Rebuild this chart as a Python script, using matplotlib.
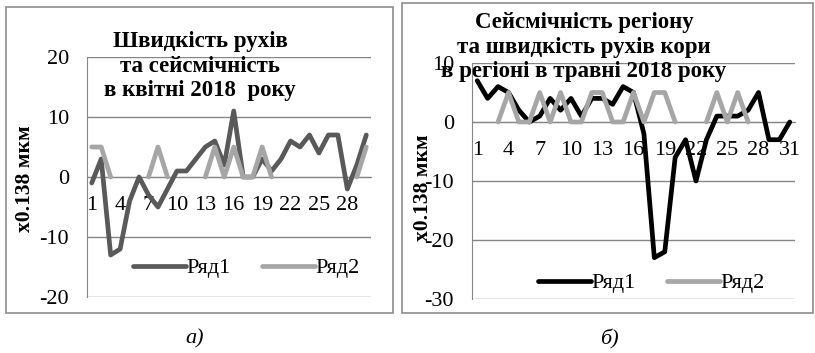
import numpy as np
import matplotlib
matplotlib.use("Agg")
import matplotlib.pyplot as plt
from matplotlib.patches import Rectangle

plt.rcParams['font.family'] = ['Liberation Serif', 'DejaVu Serif']

nan = np.nan

# April: days and the two series
april_days = list(range(1, 31))
april_r1 = [-1, 3, -13, -12, -4, 0, -3, -5, -2, 1, 1, 3, 5, 6, 2,
            11, 0, 0, 3, 1, 3, 6, 5, 7, 4, 7, 7, -2, 2, 7]
april_r2 = [5, 5, 0, nan, nan, nan, 0, 5, 0, nan, nan, nan, 0, 5, 0,
            5, 0, 0, 5, 0, nan, nan, nan, nan, nan, nan, nan, nan, 0, 5]

# May: days and the two series
may_days = list(range(1, 32))
may_r1 = [7, 4, 6, 5, 2, 0, 1, 4, 2, 4, 1, 4, 4, 3, 6, 5,
          -2, -23, -22, -6, -3, -10, -3, 1, 1, 1, 2, 5, -3, -3, 0]
may_r2 = [nan, nan, 0, 5, 0, 0, 5, 0, 5, 0, 0, 5, 5, 0, 0, 5,
          0, 5, 5, 0, nan, nan, 0, 5, 0, 5, 0, nan, nan, nan, nan]

series_names = ['Ряд1', 'Ряд2']
grid_color = '#868686'
light_gray = '#A6A6A6'

fig = plt.figure(figsize=(8.15, 3.53), dpi=100)


# Sets up one Excel-like line chart panel
def drawPanel(ax, days, r1, r2, color1, ylim, yticks):
    ax.plot(days, r1, color=color1, lw=3.4, solid_joinstyle='round',
            solid_capstyle='round', label=series_names[0], zorder=3)
    ax.plot(days, r2, color=light_gray, lw=3.4, solid_joinstyle='round',
            solid_capstyle='round', label=series_names[1], zorder=4)
    ax.set_xlim(0.5, len(days) + 0.5)
    ax.set_ylim(*ylim)
    ax.set_yticks(yticks)
    ax.set_yticklabels([str(t) for t in yticks])
    ax.set_xticks(days[::3])
    ax.set_xticklabels([str(d) for d in days[::3]])
    ax.grid(axis='y', color=grid_color, lw=1.0)
    ax.spines['top'].set_visible(False)
    ax.spines['right'].set_visible(False)
    ax.spines['bottom'].set_position(('data', 0))
    ax.spines['bottom'].set_color(grid_color)
    ax.spines['left'].set_color(grid_color)
    ax.tick_params(axis='x', length=0, pad=14, labelsize=16)
    ax.tick_params(axis='y', length=0, pad=13, labelsize=16)
    ax.set_facecolor('none')


axA = fig.add_axes([87 / 815, 56 / 353, 284 / 815, 240 / 353])
drawPanel(axA, april_days, april_r1, april_r2, '#595959', (-20, 20), [-20, -10, 0, 10, 20])
axA.legend(loc='center', bbox_to_anchor=(246 / 815, 1 - 268 / 353),
           bbox_transform=fig.transFigure, ncol=2, frameon=False, fontsize=16,
           handlelength=2.4, handletextpad=0.0, columnspacing=1.4, borderpad=0)

axB = fig.add_axes([472 / 815, 54 / 353, 323 / 815, 236 / 353])
drawPanel(axB, may_days, may_r1, may_r2, '#000000', (-30, 10), [-30, -20, -10, 0, 10])
axB.legend(loc='center', bbox_to_anchor=(651 / 815, 1 - 283 / 353),
           bbox_transform=fig.transFigure, ncol=2, frameon=False, fontsize=16,
           handlelength=2.4, handletextpad=0.0, columnspacing=1.4, borderpad=0)

# Chart frames
for x0, y0, x1, y1 in [(6, 7, 393, 313), (402, 3, 813, 313)]:
    fig.add_artist(Rectangle((x0 / 815, 1 - y1 / 353), (x1 - x0) / 815, (y1 - y0) / 353,
                             transform=fig.transFigure, fill=False,
                             edgecolor='#8c8c8c', lw=1.2))

# Titles
fig.text(200 / 815, 1 - 66 / 353, 'Швидкість рухів\nта сейсмічність\nв квітні 2018  року',
         ha='center', va='center', fontsize=16.5, fontweight='bold', linespacing=1.2, zorder=5)
fig.text(584 / 815, 1 - 47 / 353, 'Сейсмічність регіону\nта швидкість рухів кори\nв регіоні в травні 2018 року',
         ha='center', va='center', fontsize=16.5, fontweight='bold', linespacing=1.2, zorder=5)

# Axis labels
fig.text(25 / 815, 1 - 179 / 353, 'x0.138 мкм', rotation=90, ha='center', va='center',
         fontsize=15.5, fontweight='bold')
fig.text(423 / 815, 1 - 188 / 353, 'x0.138 мкм', rotation=90, ha='center', va='center',
         fontsize=15.5, fontweight='bold')

# Sub-captions
fig.text(195 / 815, 1 - 339 / 353, 'а)', ha='center', va='center', fontsize=16, style='italic')
fig.text(609 / 815, 1 - 339 / 353, 'б)', ha='center', va='center', fontsize=16, style='italic')

fig.savefig('out.png', dpi=100)
